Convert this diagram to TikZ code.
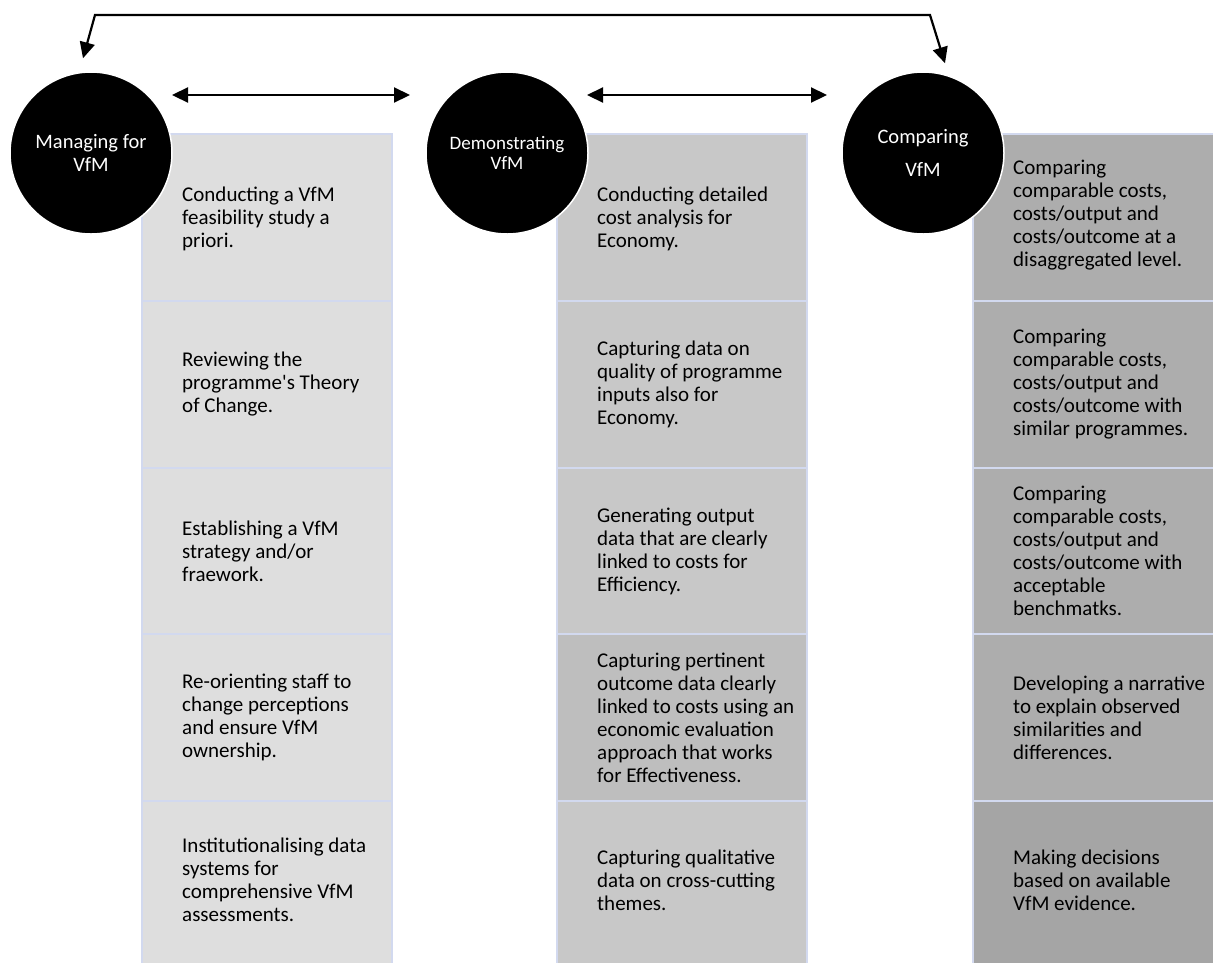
\documentclass[tikz,border=0pt]{standalone}
\usepackage{fontspec}
\setmainfont{Carlito}
\usepackage{xcolor}
\usepackage{tikz}
\usetikzlibrary{arrows.meta}

\definecolor{manfill}{HTML}{DEDEDE}
\definecolor{demfill}{HTML}{C8C8C8}
\definecolor{demdark}{HTML}{BEBEBE}
\definecolor{cmpfill}{HTML}{ADADAD}
\definecolor{cmpdark}{HTML}{A5A5A5}
\definecolor{cellline}{HTML}{D2D9EF}

\begin{document}
\begin{tikzpicture}[x=1pt, y=-1pt,
    stage/.style={circle, fill=black, draw=white, line width=1.5pt, minimum size=162pt,
        inner sep=0pt, text=white, align=center, font=\fontsize{20.5}{23}\selectfont},
    cell/.style={draw=cellline, line width=2.5pt},
    celltext/.style={anchor=west, align=left, inner sep=0pt, font=\fontsize{21}{23}\selectfont},
    link/.style={{Triangle[length=16pt,width=15pt]}-{Triangle[length=16pt,width=15pt]}, line width=2.2pt}]
    \useasboundingbox (0,0) rectangle (1213,962);

    % Managing column
    \draw[cell, fill=manfill] (142,134) rectangle (392,301);
    \draw[cell, fill=manfill] (142,301) rectangle (392,468);
    \draw[cell, fill=manfill] (142,468) rectangle (392,634);
    \draw[cell, fill=manfill] (142,634) rectangle (392,801);
    \draw[cell, fill=manfill] (142,801) rectangle (392,966);
    \node[celltext] (man1) at (182,219) {Conducting a VfM\\feasibility study a\\priori.};
    \node[celltext] (man2) at (182,384.5) {Reviewing the\\programme\textquotesingle s Theory\\of Change.};
    \node[celltext] (man3) at (182,551) {Establishing a VfM\\strategy and/or\\fraework.};
    \node[celltext] (man4) at (182,717.5) {Re-orienting staff to\\change perceptions\\and ensure VfM\\ownership.};
    \node[celltext] (man5) at (182,880) {Institutionalising data\\systems for\\comprehensive VfM\\assessments.};

    % Demonstrating column
    \draw[cell, fill=demfill] (557,134) rectangle (807,301);
    \draw[cell, fill=demfill] (557,301) rectangle (807,468);
    \draw[cell, fill=demfill] (557,468) rectangle (807,634);
    \draw[cell, fill=demdark] (557,634) rectangle (807,801);
    \draw[cell, fill=demfill] (557,801) rectangle (807,966);
    \node[celltext] (dem1) at (597,219) {Conducting detailed\\cost analysis for\\Economy.};
    \node[celltext] (dem2) at (597,384.5) {Capturing data on\\quality of programme\\inputs also for\\Economy.};
    \node[celltext] (dem3) at (597,551) {Generating output\\data that are clearly\\linked to costs for\\Efficiency.};
    \node[celltext] (dem4) at (597,717.5) {Capturing pertinent\\outcome data clearly\\linked to costs using an\\economic evaluation\\approach that works\\for Effectiveness.};
    \node[celltext] (dem5) at (597,880) {Capturing qualitative\\data on cross-cutting\\themes.};

    % Comparing column
    \draw[cell, fill=cmpfill] (973,134) rectangle (1216,301);
    \draw[cell, fill=cmpfill] (973,301) rectangle (1216,468);
    \draw[cell, fill=cmpfill] (973,468) rectangle (1216,634);
    \draw[cell, fill=cmpfill] (973,634) rectangle (1216,801);
    \draw[cell, fill=cmpdark] (973,801) rectangle (1216,966);
    \node[celltext] (cmp1) at (1013,215) {Comparing\\comparable costs,\\costs/output and\\costs/outcome at a\\disaggregated level.};
    \node[celltext] (cmp2) at (1013,384.5) {Comparing\\comparable costs,\\costs/output and\\costs/outcome with\\similar programmes.};
    \node[celltext] (cmp3) at (1013,551) {Comparing\\comparable costs,\\costs/output and\\costs/outcome with\\acceptable\\benchmatks.};
    \node[celltext] (cmp4) at (1013,717.5) {Developing a narrative\\to explain observed\\similarities and\\differences.};
    \node[celltext] (cmp5) at (1013,880) {Making decisions\\based on available\\VfM evidence.};

    % Stages
    \node[stage] (mgr) at (91,153) {Managing for\\VfM};
    \node[stage, font=\fontsize{19}{20}\selectfont] (dmo) at (507,153) {Demonstrating\\VfM};
    \node[stage] (cpr) at (923,153) {Comparing\\[10pt]VfM};

    % Links
    \coordinate (mgrR) at (172,95);
    \coordinate (dmoL) at (410,95);
    \coordinate (dmoR) at (587,95);
    \coordinate (cprL) at (827,95);
    \draw[link] (mgrR) -- (dmoL);
    \draw[link] (dmoR) -- (cprL);

    % Feedback
    \coordinate (fbL) at (95,15);
    \coordinate (fbR) at (930,15);
    \draw[link] ([shift={(-8,-13)}]mgr.north) -- (fbL) -- (fbR) -- ([shift={(22,-8)}]cpr.north);
\end{tikzpicture}
\end{document}
